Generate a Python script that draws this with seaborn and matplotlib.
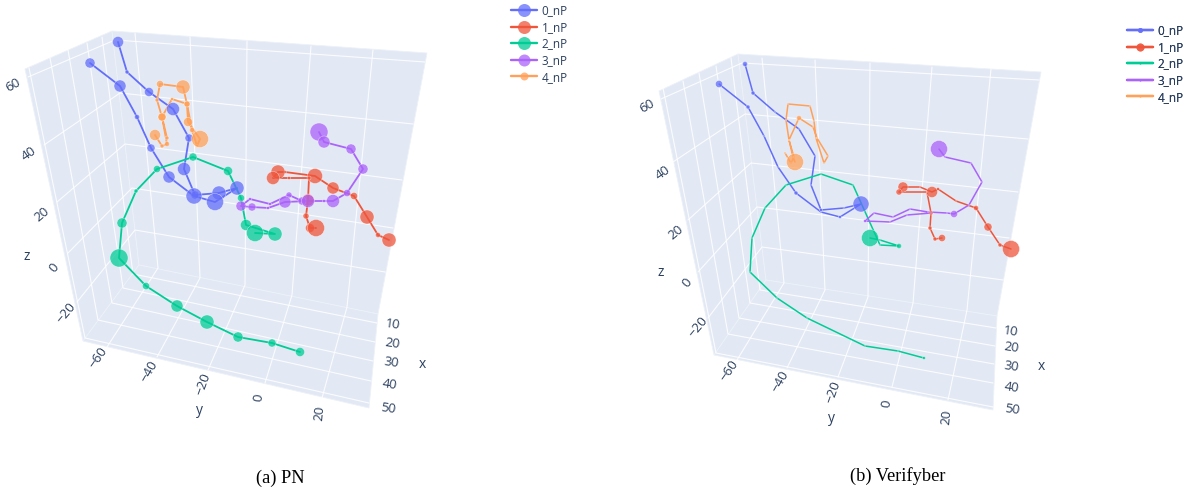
import matplotlib
matplotlib.use('Agg')
import matplotlib.pyplot as plt
from matplotlib.colors import to_rgba
from matplotlib.lines import Line2D
import pandas as pd
import seaborn as sns

names = ['0_nP', '1_nP', '2_nP', '3_nP', '4_nP']
colors = ['#636EFA', '#EF553B', '#00CC96', '#AB63FA', '#FFA15A']

# values, as projected onto the page, d = marker width
pn_0_x = [118, 127, 149, 173, 189, 184, 195, 219, 237, 215, 194, 169, 151, 137, 120, 90]
pn_0_y = [42, 72, 92, 109, 138, 169, 195, 193, 188, 202, 196, 177, 148, 117, 86, 63]
pn_0_d = [11, 4, 9, 13, 8, 13, 8, 14, 14, 17, 16, 12, 8, 5, 12, 10]

pn_1_x = [389, 378, 367, 354, 333, 315, 285, 278, 273, 289, 309, 308, 306, 310, 316]
pn_1_y = [240, 235, 217, 196, 188, 176, 172, 172, 178, 178, 178, 200, 216, 228, 228]
pn_1_d = [14, 5, 14, 7, 12, 15, 3, 14, 13, 3, 4, 12, 6, 9, 17]

pn_2_x = [300, 272, 238, 207, 177, 146, 119, 122, 136, 157, 193, 228, 241, 246, 275, 255]
pn_2_y = [352, 343, 337, 322, 306, 286, 258, 223, 191, 169, 157, 171, 198, 225, 234, 233]
pn_2_d = [9, 8, 10, 14, 12, 7, 18, 10, 4, 7, 8, 9, 7, 11, 14, 17]

pn_3_x = [319, 324, 351, 363, 347, 333, 324, 302, 289, 270, 250, 241, 252, 268, 285, 308]
pn_3_y = [132, 142, 149, 169, 193, 201, 201, 201, 195, 204, 199, 206, 207, 208, 202, 201]
pn_3_d = [18, 12, 10, 10, 7, 13, 3, 8, 6, 3, 3, 10, 8, 3, 12, 13]

pn_4_x = [155, 162, 167, 162, 172, 187, 192, 197, 200, 188, 187, 183, 160, 157, 162, 167]
pn_4_y = [135, 146, 144, 117, 99, 104, 130, 146, 139, 122, 104, 87, 84, 100, 117, 138]
pn_4_d = [11, 4, 5, 8, 3, 6, 5, 3, 17, 9, 6, 14, 7, 4, 8, 4]

vf_0_x = [745, 753, 775, 799, 815, 811, 821, 844, 861, 840, 821, 796, 778, 764, 748, 719]
vf_0_y = [64, 93, 112, 129, 156, 185, 210, 208, 204, 217, 212, 193, 167, 136, 107, 84]
vf_0_d = [5, 4, 2, 1, 1, 1, 3, 2, 16, 3, 1, 4, 1, 2, 4, 7]

vf_1_x = [1011, 1000, 988, 976, 956, 938, 932, 920, 903, 899, 927, 931, 930, 935, 942]
vf_1_y = [249, 245, 227, 208, 201, 189, 192, 187, 187, 192, 192, 213, 228, 239, 238]
vf_1_d = [17, 4, 8, 5, 1, 3, 11, 1, 10, 6, 1, 4, 4, 4, 7]

vf_2_x = [924, 898, 865, 807, 777, 750, 752, 765, 786, 821, 853, 880, 899, 880, 870]
vf_2_y = [358, 351, 346, 318, 298, 272, 238, 208, 185, 174, 185, 245, 246, 240, 238]
vf_2_d = [3, 1, 1, 1, 1, 1, 1, 1, 1, 1, 1, 1, 5, 1, 17]

vf_3_x = [939, 945, 971, 982, 969, 954, 947, 928, 910, 893, 874, 865, 890, 907, 931]
vf_3_y = [149, 157, 163, 182, 205, 214, 213, 212, 209, 217, 213, 221, 222, 215, 213]
vf_3_d = [17, 1, 1, 1, 1, 7, 1, 1, 1, 1, 1, 3, 1, 1, 1]

vf_4_x = [785, 791, 794, 789, 799, 813, 817, 828, 824, 816, 814, 810, 788, 786, 789, 793, 795]
vf_4_y = [153, 163, 157, 140, 118, 127, 138, 156, 163, 138, 121, 106, 104, 120, 140, 157, 162]
vf_4_d = [2, 2, 2, 1, 5, 1, 1, 1, 1, 1, 1, 1, 1, 1, 1, 1, 17]

pn_legend_d = [13, 13, 13, 12, 8]
vf_legend_d = [5, 8, 2, 2, 2]

z_ticks = ['60', '40', '20', '0', '\u221220']
y_ticks = ['\u221260', '\u221240', '\u221220', '0', '20']
x_ticks = ['10', '20', '30', '40', '50']

scenes = [
    {
        'walls': [[(25, 69), (112, 31), (139, 265), (83, 341)],
                  [(112, 31), (427, 53), (378, 314), (139, 265)],
                  [(139, 265), (378, 314), (369, 408), (83, 341)]],
        'grid': [[(28, 77), (115, 40), (425, 62)], [(44, 145), (120, 93), (413, 124)],
                 [(57, 202), (125, 144), (402, 180)], [(68, 253), (132, 188), (393, 228)],
                 [(77, 302), (135, 230), (385, 272)],
                 [(107, 347), (158, 268), (135, 33)], [(157, 357), (200, 278), (190, 37)],
                 [(208, 370), (245, 285), (247, 41)], [(265, 383), (292, 295), (311, 46)],
                 [(322, 398), (347, 307), (373, 50)],
                 [(102, 37), (133, 274), (377, 323)], [(87, 43), (123, 288), (375, 342)],
                 [(68, 50), (112, 303), (373, 361)], [(50, 58), (98, 320), (371, 381)],
                 [(29, 68), (85, 338), (369, 403)]],
        'z_pos': [(13, 85), (29, 154), (42, 214), (54, 268), (66, 313)],
        'y_pos': [(98, 358), (149, 371), (203, 384), (259, 398), (319, 413)],
        'x_pos': [(393, 325), (392, 344), (391, 363), (390, 385), (388, 409)],
        'titles': [('z', 27, 257), ('y', 199, 411), ('x', 422, 364)],
        'series': [(pn_0_x, pn_0_y, pn_0_d), (pn_1_x, pn_1_y, pn_1_d), (pn_2_x, pn_2_y, pn_2_d),
                   (pn_3_x, pn_3_y, pn_3_d), (pn_4_x, pn_4_y, pn_4_d)],
        'lw': 1.3,
        'legend': (511, 44, pn_legend_d),
        'caption': ('(a) PN', 280, 478),
    },
    {
        'walls': [[(659, 91), (738, 54), (766, 280), (714, 355)],
                  [(738, 54), (1041, 72), (997, 316), (766, 280)],
                  [(766, 280), (997, 316), (993, 410), (714, 355)]],
        'grid': [[(661, 99), (742, 63), (1039, 80)], [(673, 162), (745, 114), (1028, 139)],
                 [(688, 220), (751, 163), (1018, 192)], [(698, 272), (757, 207), (1009, 238)],
                 [(708, 318), (762, 247), (1003, 280)],
                 [(737, 360), (784, 283), (762, 58)], [(787, 368), (825, 290), (815, 60)],
                 [(838, 377), (868, 297), (870, 63)], [(892, 387), (913, 303), (932, 67)],
                 [(948, 400), (967, 310), (991, 69)],
                 [(731, 58), (760, 290), (996, 328)], [(716, 66), (750, 303), (995, 346)],
                 [(699, 73), (739, 318), (994, 364)], [(683, 81), (728, 334), (993, 383)],
                 [(663, 88), (716, 353), (993, 407)]],
        'z_pos': [(647, 106), (663, 173), (676, 232), (687, 283), (698, 327)],
        'y_pos': [(729, 371), (780, 381), (833, 392), (887, 404), (946, 417)],
        'x_pos': [(1011, 332), (1011, 348), (1011, 367), (1012, 388), (1012, 410)],
        'titles': [('z', 661, 273), ('y', 831, 418), ('x', 1041, 367)],
        'series': [(vf_0_x, vf_0_y, vf_0_d), (vf_1_x, vf_1_y, vf_1_d), (vf_2_x, vf_2_y, vf_2_d),
                   (vf_3_x, vf_3_y, vf_3_d), (vf_4_x, vf_4_y, vf_4_d)],
        'lw': 1.1,
        'legend': (1127, 64, vf_legend_d),
        'caption': ('(b) Verifyber', 898, 476),
    },
]

z_rot = [30, 35, 40, 50, 50]
y_rot = [55, 60, 70, 80, 85]
ink = '#2a3f5f'

sns.set_theme(style='white')
plt.rcParams['font.family'] = ['Open Sans', 'DejaVu Sans']

fig = plt.figure(figsize=(11.86, 4.88), dpi=100)
ax = fig.add_axes([0, 0, 1, 1])
palette = dict(zip(names, colors))

for scene in scenes:
    for wall in scene['walls']:
        ax.fill(*zip(*wall), color='#E2E9F4', lw=0.6, ec='#EDF1F8', zorder=1)
    for line in scene['grid']:
        ax.plot(*zip(*line), color='white', lw=0.8, alpha=0.85, zorder=1.5)

    frames = []
    for name, (xs, ys, ds) in zip(names, scene['series']):
        frames.append(pd.DataFrame({'series': name, 'x': xs, 'y': ys, 'd': ds}))
    df = pd.concat(frames, ignore_index=True)

    sns.lineplot(data=df, x='x', y='y', hue='series', palette=palette, estimator=None,
                 sort=False, lw=scene['lw'], legend=False, ax=ax, zorder=3)
    # marker width in px to area in pt^2
    sizes = {d: (0.72 * d) ** 2 for d in df['d'].unique()}
    sns.scatterplot(data=df, x='x', y='y', hue='series', palette=palette, size='d', sizes=sizes,
                    alpha=0.75, edgecolor='white', linewidth=0.3, legend=False, ax=ax, zorder=4)

    for label, (tx, ty), rot in zip(z_ticks, scene['z_pos'], z_rot):
        ax.text(tx, ty, label, color=ink, fontsize=9.5, rotation=rot, ha='center', va='center')
    for label, (tx, ty), rot in zip(y_ticks, scene['y_pos'], y_rot):
        ax.text(tx, ty, label, color=ink, fontsize=9.5, rotation=rot, ha='center', va='center')
    for label, (tx, ty) in zip(x_ticks, scene['x_pos']):
        ax.text(tx, ty, label, color=ink, fontsize=9.5, rotation=-8, ha='center', va='center')
    for label, tx, ty in scene['titles']:
        ax.text(tx, ty, label, color=ink, fontsize=10, ha='center', va='center')

    cap, cx, cy = scene['caption']
    ax.text(cx, cy, cap, family='Liberation Serif', fontsize=13.2, color='black', ha='center', va='center')

    lx, ly, lds = scene['legend']
    handles = [Line2D([], [], color=c, lw=1.7, marker='o', ms=0.72 * d, mew=0,
                      mfc=to_rgba(c, 0.75)) for c, d in zip(colors, lds)]
    leg = ax.legend(handles, names, loc='center left', bbox_to_anchor=(lx, ly),
                    bbox_transform=ax.transData, frameon=False, fontsize=8.5, labelcolor=ink,
                    handlelength=2.2, handletextpad=0.4, labelspacing=0.3,
                    borderpad=0, borderaxespad=0)
    ax.add_artist(leg)

ax.set_xlim(0, 1186)
ax.set_ylim(488, 0)
ax.axis('off')

fig.savefig('out.png', dpi=100)
